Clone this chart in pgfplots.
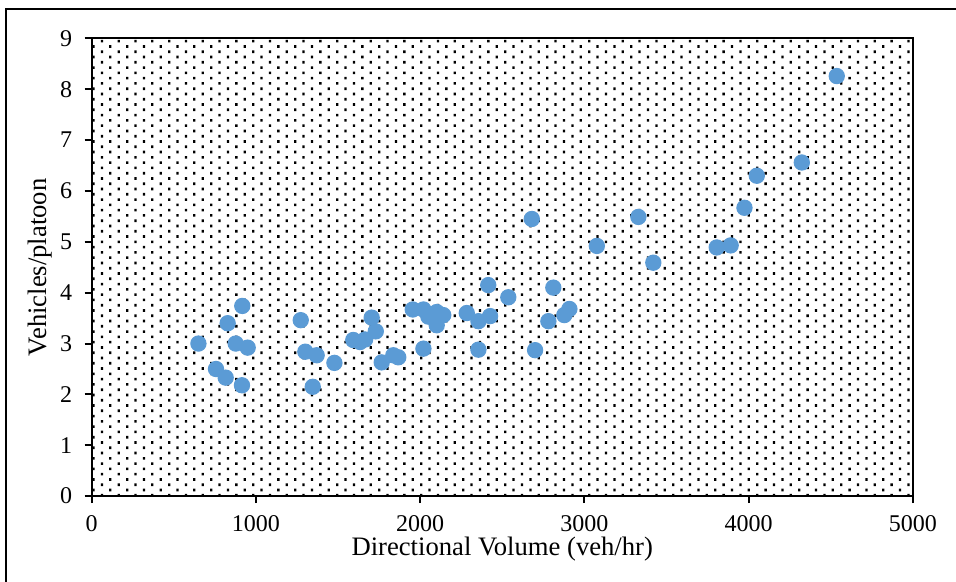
\documentclass[border=0pt]{standalone}
\usepackage{fontspec}
\setmainfont{Liberation Serif}
\usepackage{pgfplots}
\pgfplotsset{compat=1.18}
\usetikzlibrary{patterns}

% staggered dot fill for the plot area
\pgfdeclarepatternformonly{sparsedots}{\pgfqpoint{-0.1pt}{-0.1pt}}{\pgfqpoint{7.1pt}{4.5pt}}{\pgfqpoint{7pt}{4.4pt}}{%
  \pgfpathrectangle{\pgfqpoint{0pt}{0pt}}{\pgfqpoint{0.95pt}{1.1pt}}%
  \pgfpathrectangle{\pgfqpoint{3.5pt}{2.2pt}}{\pgfqpoint{0.95pt}{1.1pt}}%
  \pgfusepath{fill}}

\definecolor{ptblue}{HTML}{5B9BD5}

\pgfplotstableread{
vol   vpp
650   3.00
757   2.50
816   2.33
828   3.40
877   3.00
915   2.18
917   3.74
950   2.92
1273  3.46
1301  2.84
1346  2.15
1370  2.77
1478  2.62
1593  3.07
1634  3.03
1665  3.08
1705  3.51
1730  3.24
1766  2.63
1837  2.77
1867  2.73
1955  3.67
2020  3.67
2020  2.90
2050  3.53
2101  3.62
2101  3.36
2141  3.56
2284  3.60
2355  3.44
2355  2.88
2415  4.15
2426  3.54
2537  3.91
2680  5.45
2700  2.87
2781  3.44
2811  4.10
2878  3.56
2909  3.68
3076  4.92
3329  5.49
3420  4.59
3806  4.89
3891  4.93
3975  5.67
4050  6.30
4324  6.56
4537  8.26
}\platoons

\begin{document}
\begin{tikzpicture}
\path[use as bounding box] (-38.2pt,-35.4pt) rectangle (360.1pt,206.7pt);
% chart frame (left and top edges)
\draw[line width=0.75pt] (-35.7pt,-36pt) -- (-35.7pt,202.9pt) -- (361pt,202.9pt);
\begin{axis}[
  at={(0,0)}, anchor=south west,
  scale only axis, width=342.1pt, height=190.7pt,
  xmin=0, xmax=5000, ymin=0, ymax=9,
  xtick={0,1000,...,5000}, ytick={0,1,...,9},
  xtick pos=bottom, ytick pos=left,
  tick align=outside, major tick length=2.9pt,
  axis line style={line width=0.9pt},
  every tick/.style={black, line width=0.8pt},
  /pgf/number format/assume math mode=true,
  scaled x ticks=false,
  /pgf/number format/1000 sep={},
  tick label style={font=\fontsize{10}{12}\selectfont},
  xticklabel style={anchor=base, inner sep=0pt, yshift=-11.7pt},
  yticklabel style={anchor=east, inner sep=0pt, xshift=-5.1pt},
  xlabel={Directional Volume (veh/hr)},
  ylabel={Vehicles/platoon},
  label style={font=\fontsize{11.1}{13}\selectfont},
  xlabel style={at={(axis description cs:0.5,-0.130)}, anchor=base, inner sep=0pt},
  ylabel style={at={(axis description cs:-0.0548,0.5)}, anchor=base, inner sep=0pt, rotate=0},
  axis background/.style={pattern=sparsedots},
]
\addplot[only marks, mark=*, mark size=3.2pt, color=ptblue, mark options={draw=ptblue, fill=ptblue}]
  table[x=vol, y=vpp] {\platoons};
\end{axis}
\end{tikzpicture}
\end{document}
